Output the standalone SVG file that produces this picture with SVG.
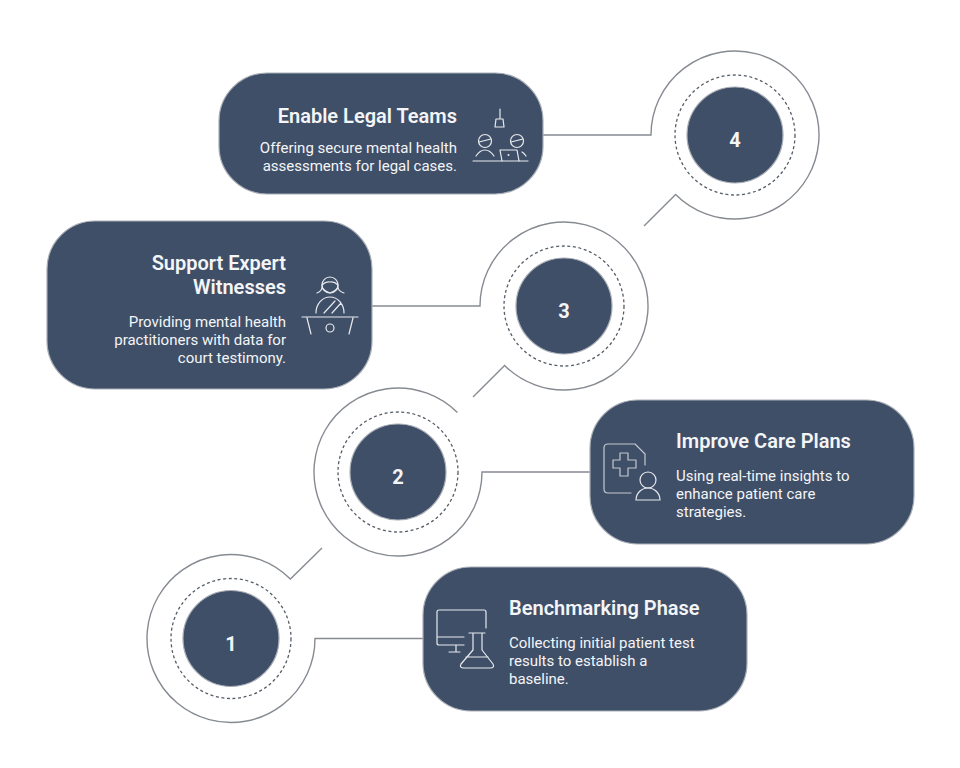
<svg xmlns="http://www.w3.org/2000/svg" width="960" height="768" viewBox="0 0 960 768">
<style>
text{font-family:Roboto,"Liberation Sans",sans-serif;fill:#f4f5f7}
.t{font-size:20px;font-weight:600}
.b{font-size:15px}
.r{text-anchor:end}
.n{font-size:20px;font-weight:700;text-anchor:middle}
.box,.disc{fill:#3f4f68;stroke:#a8adb5;stroke-width:1.2}
.dash{fill:none;stroke:#555d67;stroke-width:1.3;stroke-dasharray:3 2.600}
.wire{fill:none;stroke:#868b92;stroke-width:1.4}
.ic{fill:none;stroke:#e8eaee;stroke-width:1.2;stroke-linecap:round;stroke-linejoin:round}
.ic2{fill:none;stroke:#c3c8d0;stroke-width:1.2;stroke-linecap:round;stroke-linejoin:round}
</style>
<g id="connectors" class="wire">
<path d="M423,638.5H315A84,84 0 1 1 290.4,579.1L322,548"/>
<path d="M590,472H482A84,84 0 1 1 457.4,412.6"/>
<path d="M372,306H480A84,84 0 1 1 504.6,365.4L473,397"/>
<path d="M543,135H651A84,84 0 1 1 675.6,194.4L644,226"/>
</g>
<g id="step-1">
<circle class="dash" cx="231" cy="638.5" r="60"/>
<circle class="disc" cx="231" cy="638.5" r="48"/>
<text class="n" x="231" y="651">1</text>
</g>
<g id="step-2">
<circle class="dash" cx="398" cy="472" r="60"/>
<circle class="disc" cx="398" cy="472" r="48"/>
<text class="n" x="398" y="484">2</text>
</g>
<g id="step-3">
<circle class="dash" cx="564" cy="306" r="60"/>
<circle class="disc" cx="564" cy="306" r="48"/>
<text class="n" x="564" y="318">3</text>
</g>
<g id="step-4">
<circle class="dash" cx="735" cy="135" r="60"/>
<circle class="disc" cx="735" cy="135" r="48"/>
<text class="n" x="735" y="147">4</text>
</g>
<g id="benchmarking">
<rect class="box" x="423" y="567" width="324" height="144" rx="48"/>
<path class="ic" d="M486,628V612Q486,610 484,610H439Q437,610 437,612V643Q437,645 439,645H464M437,637H464M456,645V652M449,652H460"/>
<path class="ic" d="M469,633H485M473,633V650L461,664Q459,668 464,668H490Q495,668 493,664L482,650V633M466,657H488"/>
<text class="t" x="509" y="615">Benchmarking Phase</text>
<text class="b" x="509" y="648">Collecting initial patient test</text>
<text class="b" x="509" y="666">results to establish a</text>
<text class="b" x="509" y="684">baseline.</text>
</g>
<g id="care-plans">
<rect class="box" x="590" y="400" width="324" height="144" rx="48"/>
<path class="ic2" d="M645,465V454L635,444H608Q604,444 604,448V489Q604,493 608,493H631"/>
<path class="ic2" d="M620,453H628V460H636V468H628V476H620V468H613V460H620Z"/>
<circle class="ic" cx="648" cy="480" r="8"/>
<path class="ic" d="M636,500A12,12 0 0 1 660,500Z"/>
<text class="t" x="676" y="448">Improve Care Plans</text>
<text class="b" x="676" y="481">Using real-time insights to</text>
<text class="b" x="676" y="499">enhance patient care</text>
<text class="b" x="676" y="517">strategies.</text>
</g>
<g id="expert-witnesses">
<rect class="box" x="47" y="221" width="325" height="168" rx="48"/>
<circle class="ic" cx="330" cy="285" r="8"/>
<path class="ic" d="M322,285Q326,281 330,282Q334,281 338,285Q339,290 330,293Q321,290 322,285M322,287Q322,291 317,293M338,287Q338,291 344,293"/>
<path class="ic" d="M316,313A14,16 0 0 1 344,313M324,313L335,301M332,313L341,303"/>
<path class="ic" d="M302,317H358M307,318L311,334M353,318L349,334"/>
<circle class="ic" cx="330" cy="328" r="4"/>
<text class="t r" x="286" y="270">Support Expert</text>
<text class="t r" x="286" y="294">Witnesses</text>
<text class="b r" x="286" y="327">Providing mental health</text>
<text class="b r" x="286" y="345">practitioners with data for</text>
<text class="b r" x="286" y="363">court testimony.</text>
</g>
<g id="legal-teams">
<rect class="box" x="219" y="73" width="324" height="121" rx="48"/>
<path class="ic" d="M500,109V118M496,119H503L504,127H495Z"/>
<path class="ic" d="M473,161H528M476,156Q480,150 485,150Q490,150 494,156M522,152Q524,153 526,156"/>
<circle class="ic" cx="485" cy="141" r="6.500"/>
<circle class="ic" cx="517" cy="141" r="6.500"/>
<path class="ic" d="M479,142L491,139M511,142L523,139M500,150H517L519,161M500,150L502,161"/>
<circle cx="508.500" cy="155" r="1" fill="#e8eaee"/>
<text class="t r" x="457" y="123">Enable Legal Teams</text>
<text class="b r" x="457" y="153">Offering secure mental health</text>
<text class="b r" x="457" y="171">assessments for legal cases.</text>
</g>
</svg>
